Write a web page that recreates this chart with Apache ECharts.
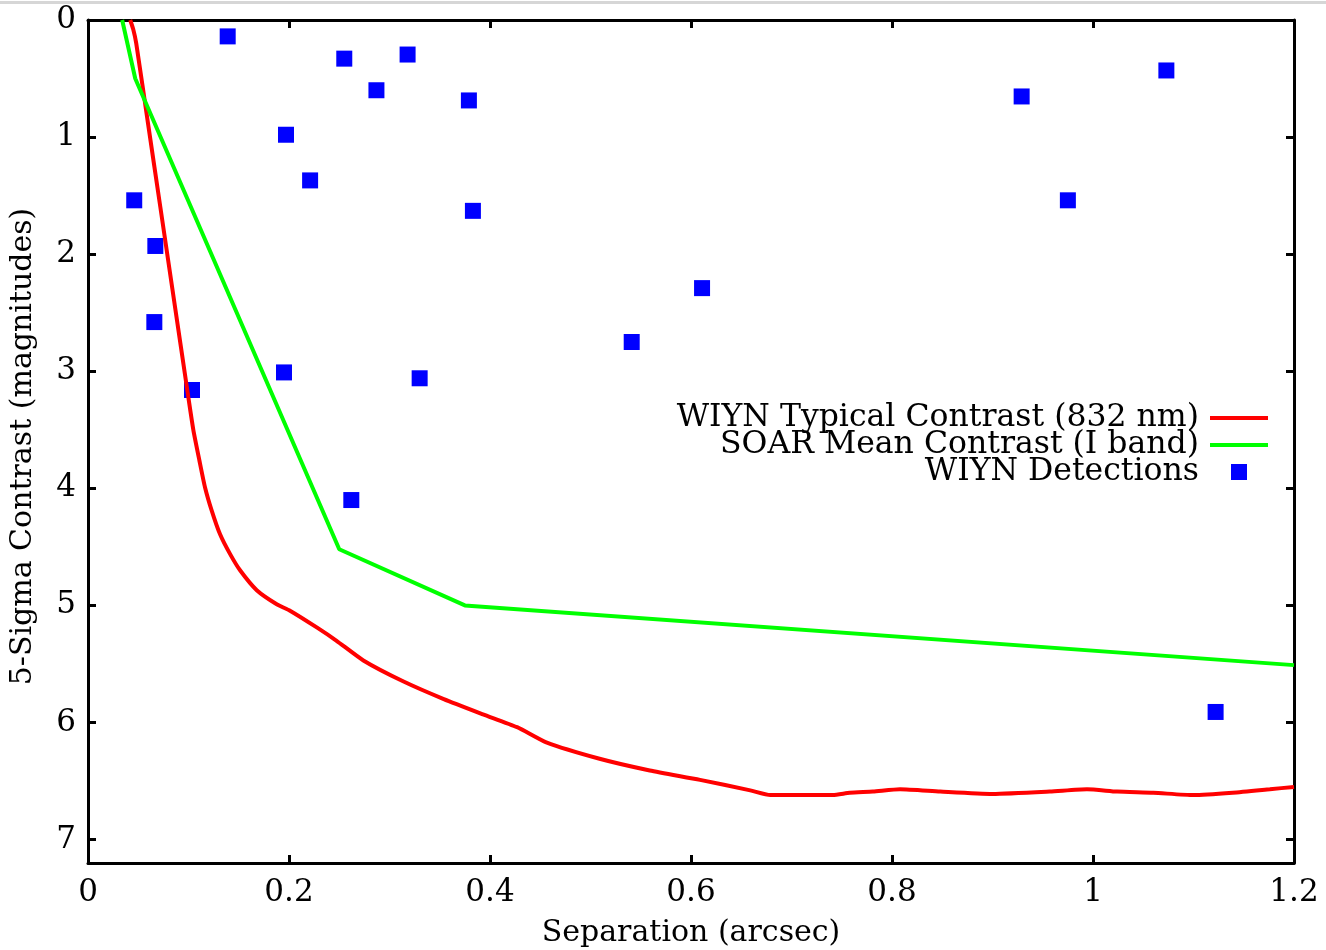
<!DOCTYPE html>
<html>
<head>
<meta charset="utf-8">
<script src="https://cdn.jsdelivr.net/npm/echarts@6/dist/echarts.min.js"></script>
<style>
html,body{margin:0;padding:0;background:#fff;}
#chart{width:1326px;height:950px;}
</style>
</head>
<body>
<div id="chart"></div>
<script>
// Red curve: WIYN typical contrast (separation arcsec, contrast mag)
const wiynSep = [0.042,0.045,0.048,0.060,0.072,0.084,0.0998,0.1048,0.1108,0.1164,0.1231,0.1313,0.1413,0.1513,0.1679,0.1878,0.201,0.228,0.247,0.274,0.314,0.354,0.393,0.427,0.456,0.509,0.559,0.609,0.659,0.679,0.741,0.758,0.781,0.808,0.848,0.900,0.957,0.994,1.024,1.060,1.100,1.139,1.176,1.200];
const wiynMag = [0.00,0.08,0.20,0.90,1.60,2.30,3.22,3.50,3.76,3.99,4.19,4.39,4.56,4.70,4.87,4.99,5.045,5.19,5.30,5.47,5.65,5.80,5.93,6.04,6.17,6.31,6.41,6.49,6.58,6.62,6.62,6.60,6.59,6.57,6.59,6.61,6.59,6.57,6.59,6.60,6.62,6.60,6.57,6.55];
// Green curve: SOAR mean contrast
const soarSep = [0.034,0.047,0.250,0.375,1.200];
const soarMag = [0.00,0.50,4.52,5.00,5.51];
// Blue squares: WIYN detections
const detSep = [0.046,0.139,0.067,0.066,0.197,0.221,0.255,0.287,0.318,0.195,0.1035,0.330,0.262,0.379,0.383,0.541,0.611,0.929,0.975,1.073,1.122];
const detMag = [1.54,0.14,1.93,2.58,0.98,1.37,0.33,0.60,0.295,3.01,3.16,3.06,4.10,0.687,1.63,2.75,2.29,0.653,1.54,0.431,5.91];
// Axis ticks
const xTicks = {min:0, max:1.2, interval:0.2};
const yTicks = {min:0, max:7.2, interval:1};

const names = ['WIYN Typical Contrast (832 nm)','SOAR Mean Contrast (I band)','WIYN Detections'];
const FONT = 'DejaVu Serif';
const zip = (a,b) => a.map((v,i)=>[v,b[i]]);

const axisLineStyle = {color:'#000', width:3};
const tickStyle = {show:true, inside:true, length:8, lineStyle:{color:'#000', width:3}};

const chart = echarts.init(document.getElementById('chart'), null, {renderer:'canvas'});
chart.setOption({
  animation:false,
  backgroundColor:'#fff',
  grid:{left:88, right:32, top:20, bottom:87, containLabel:false, outerBoundsMode:'none'},
  xAxis:[{
    type:'value', min:xTicks.min, max:xTicks.max, interval:xTicks.interval,
    name:'Separation (arcsec)', nameLocation:'middle', nameGap:55,
    nameTextStyle:{fontFamily:FONT, fontSize:30, color:'#000'},
    axisLine:{show:true, onZero:false, lineStyle:axisLineStyle},
    axisTick:tickStyle,
    axisLabel:{fontFamily:FONT, fontSize:31, color:'#000', margin:14},
    splitLine:{show:false}
  },{
    type:'value', position:'top', min:xTicks.min, max:xTicks.max, interval:xTicks.interval,
    axisLine:{show:true, onZero:false, lineStyle:axisLineStyle},
    axisTick:tickStyle, axisLabel:{show:false}, splitLine:{show:false}
  }],
  yAxis:[{
    type:'value', inverse:true, min:yTicks.min, max:yTicks.max, interval:yTicks.interval,
    name:'5-Sigma Contrast (magnitudes)', nameLocation:'middle', nameGap:50,
    nameTextStyle:{fontFamily:FONT, fontSize:30, color:'#000', padding:[0,10,0,0]},
    axisLine:{show:true, onZero:false, lineStyle:axisLineStyle},
    axisTick:tickStyle,
    axisLabel:{fontFamily:FONT, fontSize:31, color:'#000', margin:12, showMaxLabel:false},
    splitLine:{show:false}
  },{
    type:'value', position:'right', inverse:true, min:yTicks.min, max:yTicks.max, interval:yTicks.interval,
    axisLine:{show:true, onZero:false, lineStyle:axisLineStyle},
    axisTick:tickStyle, axisLabel:{show:false}, splitLine:{show:false}
  }],
  legend:{
    orient:'vertical', align:'right', right:58, top:402,
    padding:0, itemGap:-5, itemWidth:58, itemHeight:16,
    selectedMode:false,
    textStyle:{fontFamily:FONT, fontSize:31.5, color:'#000', padding:[0,6,0,0]},
    data:[
      {name:names[0], icon:'path://M0,0L58,0L58,4L0,4Z', itemStyle:{color:'#ff0000'}},
      {name:names[1], icon:'path://M0,0L58,0L58,4L0,4Z', itemStyle:{color:'#00ff00'}},
      {name:names[2], icon:'path://M0,0L10,0L10,10L0,10Z'}
    ]
  },
  series:[
    {name:names[0], type:'line', data:zip(wiynSep,wiynMag), symbol:'none', smooth:0.2,
     lineStyle:{color:'#ff0000', width:4}, itemStyle:{color:'#ff0000'}},
    {name:names[1], type:'line', data:zip(soarSep,soarMag), symbol:'none',
     lineStyle:{color:'#00ff00', width:4}, itemStyle:{color:'#00ff00'}},
    {name:names[2], type:'scatter', data:zip(detSep,detMag), symbol:'rect', symbolSize:16,
     itemStyle:{color:'#0000ff', opacity:1}}
  ],
  graphic:[
    {type:'rect', left:0, top:1, shape:{width:1326, height:3}, style:{fill:'#d6d6d6'}, silent:true}
  ]
});
</script>
</body>
</html>
